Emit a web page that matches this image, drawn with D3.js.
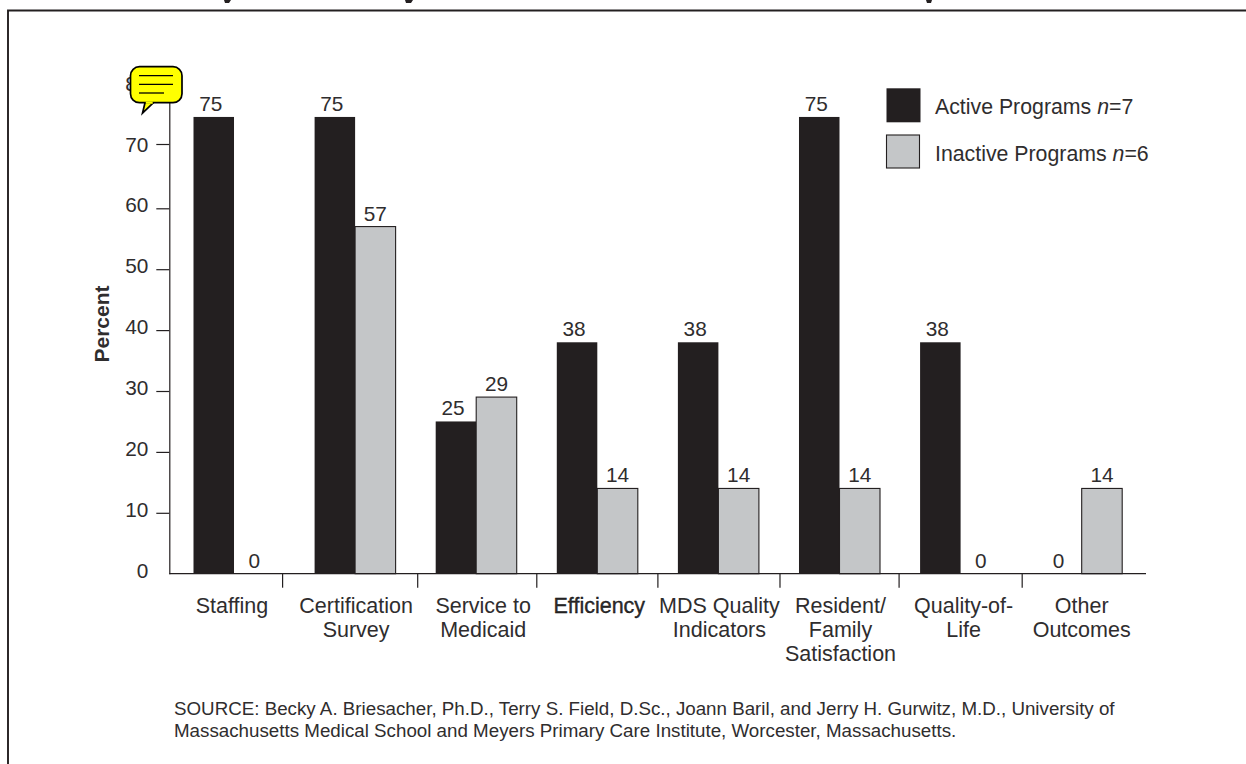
<!DOCTYPE html>
<html>
<head>
<meta charset="utf-8">
<script src="https://cdn.jsdelivr.net/npm/d3@7"></script>
<style>
  html, body { margin: 0; padding: 0; background: #fff; overflow: hidden; }
  text { font-family: "Liberation Sans", Arial, sans-serif; fill: #2f2d2e; }
</style>
</head>
<body>
<svg id="chart" width="1246" height="764"></svg>
<script>
// Chart data
var categories = ['Staffing', 'Certification\nSurvey', 'Service to\nMedicaid', 'Efficiency',
    'MDS Quality\nIndicators', 'Resident/\nFamily\nSatisfaction', 'Quality-of-\nLife', 'Other\nOutcomes'];
var activeValues = [75, 75, 25, 38, 38, 75, 38, 0];
var inactiveValues = [0, 57, 29, 14, 14, 14, 0, 14];
var yTicks = [0, 10, 20, 30, 40, 50, 60, 70, 80];
var sourceLines = [
    'SOURCE: Becky A. Briesacher, Ph.D., Terry S. Field, D.Sc., Joann Baril, and Jerry H. Gurwitz, M.D., University of',
    'Massachusetts Medical School and Meyers Primary Care Institute, Worcester, Massachusetts.'
];

// The separators and labels are not evenly placed in the original
var separatorGaps = [32, 18, 20, 20, 19, 21, 19];
var labelShifts = [-2, 1, 7, 2, 1, 1, 3, 0];

var DARK = '#231f20';
var GREY = '#c4c6c8';
var series = [
    { key: 'active', values: activeValues, fill: DARK, labelShift: -3 },
    { key: 'inactive', values: inactiveValues, fill: GREY, labelShift: 0 }
];

var svg = d3.select('#chart');

// Outer frame runs off the right and bottom of the page
svg.append('path')
    .attr('d', 'M8,764 V10.5 H1246')
    .style('fill', 'none')
    .style('stroke', DARK)
    .style('stroke-width', 1.9);

var baseline = 573.7;
var axisLeft = 169.3;
var axisRight = 1146;

var y = d3.scaleLinear().domain([0, 80]).range([baseline, baseline - 487.2]);

var x = d3.scaleBand()
    .domain(categories)
    .range([193.5, 1122.2])
    .paddingInner(0.331)
    .paddingOuter(0);

var xSub = d3.scaleBand()
    .domain(series.map(function (s) { return s.key; }))
    .range([0, x.bandwidth()]);

// Bars
series.forEach(function (s) {
    var isGrey = s.fill === GREY;
    svg.append('g').selectAll('rect')
        .data(s.values)
        .enter()
        .append('rect')
        .attr('x', function (d, i) { return x(categories[i]) + xSub(s.key); })
        .attr('y', function (d) { return y(d); })
        .attr('width', xSub.bandwidth())
        .attr('height', function (d) { return baseline - y(d); })
        .style('fill', s.fill)
        .style('stroke', isGrey ? DARK : 'none')
        .style('stroke-width', isGrey ? 1.1 : 0);

    svg.append('g').selectAll('text')
        .data(s.values)
        .enter()
        .append('text')
        .attr('x', function (d, i) { return x(categories[i]) + xSub(s.key) + xSub.bandwidth() / 2 + s.labelShift; })
        .attr('y', function (d) { return y(d) - 6; })
        .attr('text-anchor', 'middle')
        .style('font-size', '20.8px')
        .text(function (d) { return d; });
});

// Y axis
var yAxis = svg.append('g')
    .attr('transform', 'translate(' + axisLeft + ',0)')
    .call(d3.axisLeft(y).tickValues(yTicks).tickSize(13).tickSizeOuter(0).tickPadding(8));
yAxis.select('.domain').style('stroke', DARK).style('stroke-width', 1.2);
yAxis.selectAll('.tick line')
    .style('stroke', DARK)
    .style('stroke-width', 1.2)
    .style('display', function (d) { return d === 0 ? 'none' : null; })
    .attr('transform', function (d) { return d >= 70 ? 'translate(0,-3.4)' : null; });
yAxis.selectAll('.tick text')
    .attr('transform', 'translate(0,-3)')
    .style('font-family', '"Liberation Sans", Arial, sans-serif')
    .style('font-size', '20.8px');

svg.append('text')
    .attr('transform', 'translate(108.5,324) rotate(-90)')
    .attr('text-anchor', 'middle')
    .style('font-size', '21px')
    .style('font-weight', 'bold')
    .text('Percent');

// X axis line and group separators
svg.append('line')
    .attr('x1', axisLeft)
    .attr('x2', axisRight)
    .attr('y1', baseline)
    .attr('y2', baseline)
    .style('stroke', DARK)
    .style('stroke-width', 1.2);

svg.append('g').selectAll('line')
    .data(separatorGaps)
    .enter()
    .append('line')
    .attr('x1', function (d, i) { return x(categories[i + 1]) - d; })
    .attr('x2', function (d, i) { return x(categories[i + 1]) - d; })
    .attr('y1', baseline)
    .attr('y2', baseline + 14)
    .style('stroke', DARK)
    .style('stroke-width', 1.2);

// Category labels
var catLabel = svg.append('g').selectAll('text')
    .data(categories)
    .enter()
    .append('text')
    .attr('text-anchor', 'middle')
    .style('font-size', '21.5px')
    .style('stroke', function (d) { return d === 'Efficiency' ? '#000' : null; })
    .style('stroke-width', function (d) { return d === 'Efficiency' ? 0.3 : null; });

catLabel.each(function (d, i) {
    var cx = x(d) + x.bandwidth() / 2 + labelShifts[i];
    d3.select(this).selectAll('tspan')
        .data(d.split('\n'))
        .enter()
        .append('tspan')
        .attr('x', cx)
        .attr('y', function (line, j) { return 612.5 + j * 24; })
        .text(function (line) { return line; });
});

// Legend
var legendItems = [
    { label: 'Active Programs ', n: '7', fill: DARK, top: 88.3, size: 34, base: 114 },
    { label: 'Inactive Programs ', n: '6', fill: GREY, top: 135, size: 33, base: 160.7 }
];
legendItems.forEach(function (item) {
    svg.append('rect')
        .attr('x', 886.5)
        .attr('y', item.top)
        .attr('width', item.size)
        .attr('height', item.size)
        .style('fill', item.fill)
        .style('stroke', item.fill === GREY ? DARK : 'none')
        .style('stroke-width', 1.1);
    var t = svg.append('text')
        .attr('x', 935)
        .attr('y', item.base)
        .style('font-size', '21.3px');
    t.append('tspan').text(item.label);
    t.append('tspan').style('font-style', 'italic').text('n');
    t.append('tspan').text('=' + item.n);
});

// Source note
svg.append('g').selectAll('text')
    .data(sourceLines)
    .enter()
    .append('text')
    .attr('x', 174)
    .attr('y', function (d, i) { return 715 + i * 21.8; })
    .style('font-size', '18.75px')
    .text(function (d) { return d; });

// Yellow comment balloon pasted over the 80 label
var note = svg.append('g').attr('transform', 'translate(130.5,66.7)');
note.append('path')
    .attr('d', 'M14.5,36 L12,46.5 L23,36 Z')
    .style('fill', '#ffff00')
    .style('stroke', '#000')
    .style('stroke-width', 1.7);
note.append('rect')
    .attr('width', 51.5)
    .attr('height', 36)
    .attr('rx', 9)
    .style('fill', '#ffff00')
    .style('stroke', '#000')
    .style('stroke-width', 1.7);
note.append('path')
    .attr('d', 'M15.3,36 H22.2')
    .style('stroke', '#ffff00')
    .style('stroke-width', 2.2);
note.selectAll('line.row')
    .data([34, 34, 25])
    .enter()
    .append('line')
    .attr('x1', 8.5)
    .attr('x2', function (d) { return 8.5 + d; })
    .attr('y1', function (d, i) { return 9 + i * 8.65; })
    .attr('y2', function (d, i) { return 9 + i * 8.65; })
    .style('stroke', '#000')
    .style('stroke-width', 1.3);

// Bottoms of the title letters cut off by the top of the page
svg.append('path')
    .attr('d', 'M224,0 H231 L229,3 H225 Z M405,0 H413 L411,3 H406 Z M926,0 H932 L931,3 H927 Z')
    .style('fill', DARK);
</script>
</body>
</html>
